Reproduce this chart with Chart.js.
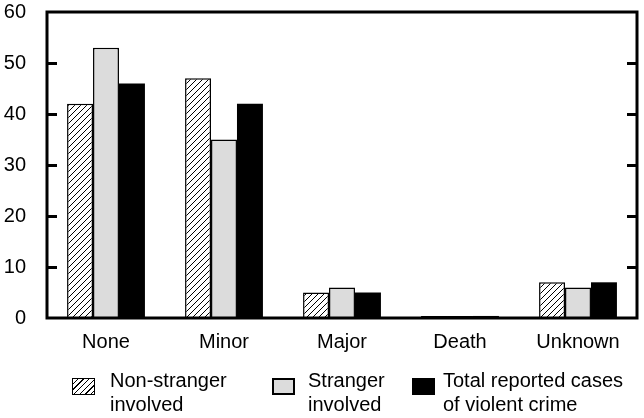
<!DOCTYPE html>
<html>
<head>
<meta charset="utf-8">
<script src="https://cdn.jsdelivr.net/npm/chart.js@4/dist/chart.umd.min.js"></script>
<style>
  html, body { margin: 0; padding: 0; background: #fff; }
  #wrap { position: relative; width: 644px; height: 418px; font-family: "Liberation Sans", Arial, sans-serif; }
  #chart { position: absolute; left: 0; top: 0; }
  .leg { position: absolute; top: 368px; font-size: 20px; line-height: 24px; color: #000; }
  .sw { position: absolute; top: 378px; width: 23px; height: 17px; box-sizing: border-box; }
</style>
</head>
<body>
<div id="wrap">
  <canvas id="chart" width="644" height="418"></canvas>
  <div id="legend"></div>
</div>
<script>
const categories = ['None', 'Minor', 'Major', 'Death', 'Unknown'];
const nonStranger = [42, 47, 5, 0.4, 7];
const stranger = [53, 35, 6, 0.4, 6];
const totalCases = [46, 42, 5, 0.4, 7];
const seriesLabels = [['Non-stranger', 'involved'], ['Stranger', 'involved'], ['Total reported cases', 'of violent crime']];
const yTicks = [0, 10, 20, 30, 40, 50, 60];

// diagonal hatch for the first series
function makeHatch() {
    const c = document.createElement('canvas');
    c.width = 6; c.height = 6;
    const g = c.getContext('2d');
    g.fillStyle = '#fff';
    g.fillRect(0, 0, 6, 6);
    g.strokeStyle = '#000';
    g.lineWidth = 1;
    g.beginPath();
    g.moveTo(0, 6); g.lineTo(6, 0);
    g.moveTo(-1, 1); g.lineTo(1, -1);
    g.moveTo(5, 7); g.lineTo(7, 5);
    g.stroke();
    return g.createPattern(c, 'repeat');
}

// frame + inward ticks on both sides
const framePlugin = {
    id: 'frame',
    afterDatasetsDraw(chart) {
        const { ctx, chartArea: a, scales } = chart;
        ctx.save();
        ctx.strokeStyle = '#000';
        ctx.lineWidth = 3;
        ctx.strokeRect(a.left, a.top, a.right - a.left, a.bottom - a.top);
        scales.y.ticks.forEach(t => {
            if (t.value === 0 || t.value === 60) return;
            const y = Math.round(scales.y.getPixelForValue(t.value)) + 0.5;
            ctx.beginPath();
            ctx.moveTo(a.left, y); ctx.lineTo(a.left + 10, y);
            ctx.moveTo(a.right - 10, y); ctx.lineTo(a.right, y);
            ctx.stroke();
        });
        ctx.restore();
    }
};

const hatch = makeHatch();

new Chart(document.getElementById('chart'), {
    type: 'bar',
    data: {
        labels: categories,
        datasets: [
            { label: seriesLabels[0].join(' '), data: nonStranger, backgroundColor: hatch, borderColor: '#000', borderWidth: 1.5 },
            { label: seriesLabels[1].join(' '), data: stranger, backgroundColor: '#dcdcdc', borderColor: '#000', borderWidth: 1.5 },
            { label: seriesLabels[2].join(' '), data: totalCases, backgroundColor: '#000', borderWidth: 0 }
        ]
    },
    options: {
        responsive: false,
        animation: false,
        devicePixelRatio: 1,
        layout: { padding: { top: 12, right: 7, bottom: 60, left: 0 } },
        datasets: { bar: { categoryPercentage: 0.66, barPercentage: 1.0 } },
        plugins: { legend: { display: false }, tooltip: { enabled: false } },
        scales: {
            x: {
                grid: { display: false },
                border: { display: false },
                ticks: { color: '#000', font: { family: '"Liberation Sans", Arial', size: 20 }, padding: 4, maxRotation: 0 }
            },
            y: {
                min: 0, max: 60,
                afterBuildTicks(scale) { scale.ticks = yTicks.map(v => ({ value: v })); },
                afterFit(scale) { scale.width = 47; scale.paddingTop = 0; scale.paddingBottom = 0; },
                grid: { display: false },
                border: { display: false },
                ticks: { color: '#000', font: { family: '"Liberation Sans", Arial', size: 20 }, padding: 13 }
            }
        }
    },
    plugins: [framePlugin]
});

// legend below the plot
const legendPos = [{ sw: 72, tx: 110 }, { sw: 272, tx: 308 }, { sw: 412, tx: 443 }];
const swatchStyles = [
    'border:1.5px solid #000;background:repeating-linear-gradient(135deg,#fff 0 3px,#000 3px 4px);',
    'border:2px solid #000;background:#dcdcdc;',
    'background:#000;'
];
const legend = document.getElementById('legend');
seriesLabels.forEach((lines, i) => {
    const sw = document.createElement('div');
    sw.className = 'sw';
    sw.style.cssText = 'left:' + legendPos[i].sw + 'px;' + swatchStyles[i];
    legend.appendChild(sw);
    const tx = document.createElement('div');
    tx.className = 'leg';
    tx.style.left = legendPos[i].tx + 'px';
    tx.innerHTML = lines.join('<br>');
    legend.appendChild(tx);
});
</script>
</body>
</html>
